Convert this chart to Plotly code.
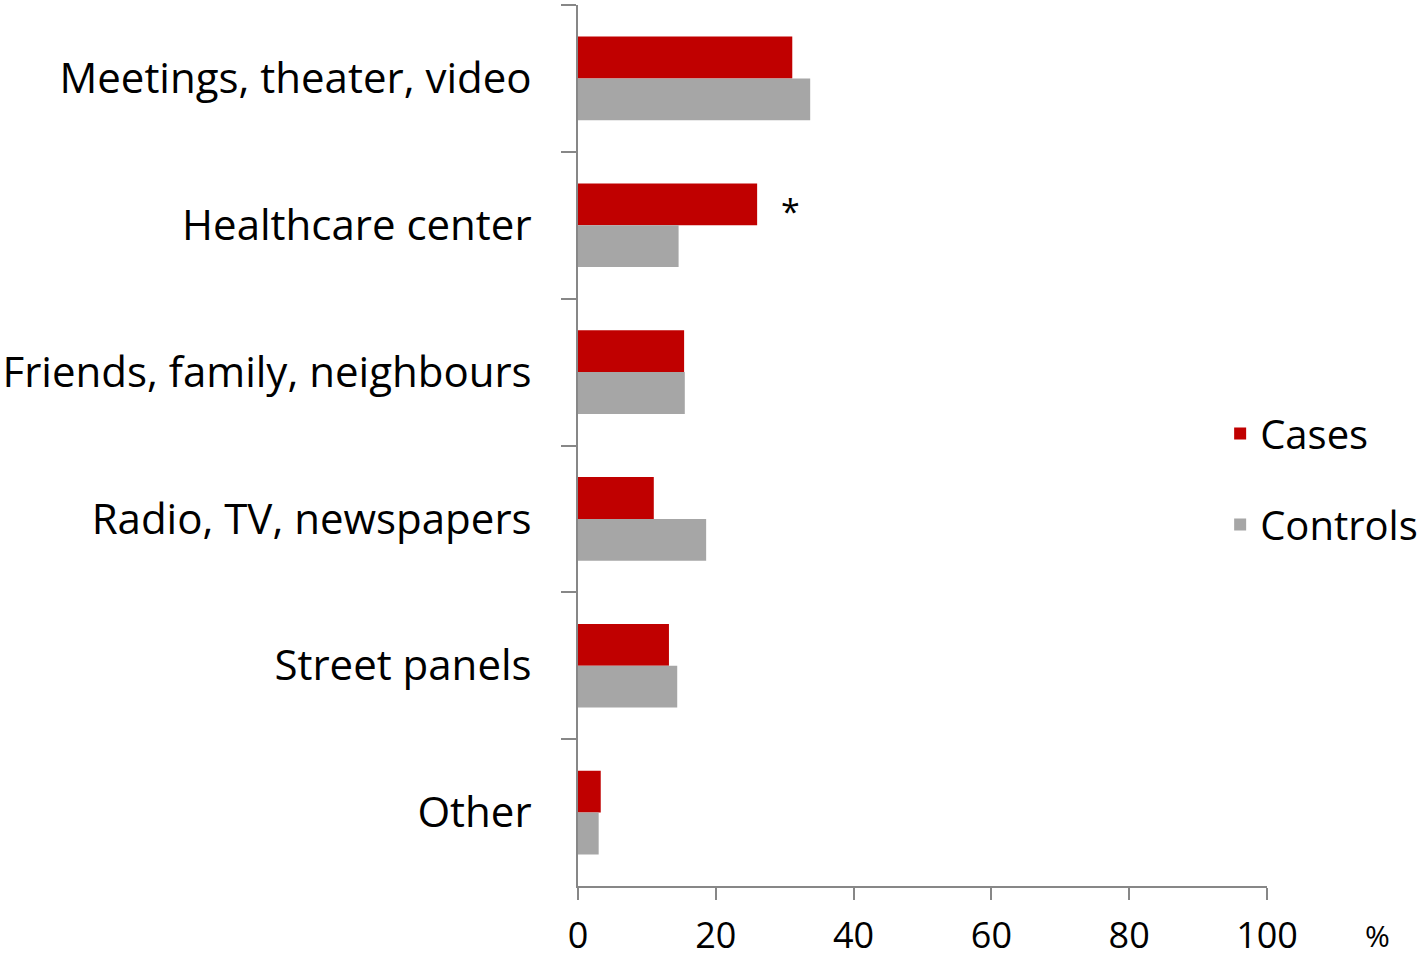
import plotly.graph_objects as go

categories = ["Meetings, theater, video", "Healthcare center", "Friends, family, neighbours",
              "Radio, TV, newspapers", "Street panels", "Other"]
cases = [31.1, 26.0, 15.4, 11.0, 13.2, 3.3]
controls = [33.7, 14.6, 15.5, 18.6, 14.4, 3.0]
x_ticks = [0, 20, 40, 60, 80, 100]

FONT = "Open Sans, Carlito, Calibri, sans-serif"
AX = "#878787"

fig = go.Figure()
fig.add_trace(go.Bar(y=categories, x=cases, name="Cases", orientation="h",
                     marker=dict(color="#C00000", line=dict(width=0)), legendgroup="a"))
fig.add_trace(go.Bar(y=categories, x=controls, name="Controls", orientation="h",
                     marker=dict(color="#A6A6A6", line=dict(width=0)), legendgroup="b"))

fig.add_annotation(x=cases[1] + 4.8, y=categories[1], text="*", showarrow=False,
                   yshift=14, font=dict(size=34, color="black", family=FONT))
fig.add_annotation(x=1.182, y=-0.082, xref="paper", yref="paper", text="%", showarrow=False,
                   font=dict(size=30, color="black", family=FONT))

fig.update_layout(
    width=1425, height=960,
    margin=dict(l=578, r=158, t=5, b=74, autoexpand=False),
    paper_bgcolor="white", plot_bgcolor="white",
    barmode="group", bargap=0.43, bargroupgap=0,
    font=dict(family=FONT, size=40, color="black"),
    showlegend=True,
    legend=dict(x=0.932, y=0.462, xanchor="left", yanchor="middle",
                traceorder="grouped", tracegroupgap=36,
                font=dict(size=40, family=FONT), itemwidth=30),
    xaxis=dict(range=[0, 100], tickvals=x_ticks, showgrid=False, zeroline=False,
               showline=True, linecolor=AX, linewidth=2, automargin=False,
               ticks="outside", ticklen=12, tickcolor=AX, tickwidth=2,
               tickfont=dict(size=36, family=FONT), ticklabelstandoff=5),
    yaxis=dict(autorange="reversed", showgrid=False, zeroline=False,
               showline=True, linecolor=AX, linewidth=2, automargin=False,
               ticks="outside", ticklen=15, tickcolor=AX, tickwidth=2,
               tickson="boundaries", ticklabelstandoff=36,
               tickfont=dict(size=42, family=FONT)),
)

fig.write_html("out.html", config={"displayModeBar": False},
               post_script="document.body.style.margin='0';")
